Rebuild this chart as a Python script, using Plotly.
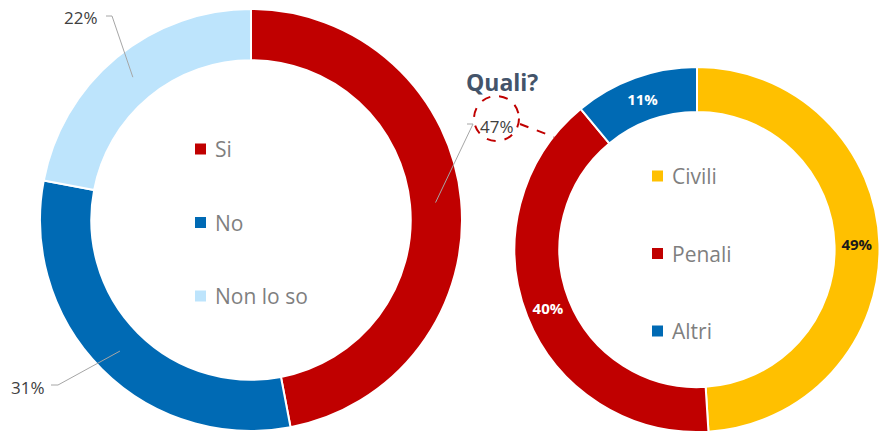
import math
import plotly.graph_objects as go

# ---- data ----
left_labels = ["Si", "No", "Non lo so"]
left_values = [47, 31, 22]
left_colors = ["#C00000", "#006AB4", "#BDE4FC"]

right_labels = ["Civili", "Penali", "Altri"]
right_values = [49, 40, 11]
right_colors = ["#FFC000", "#C00000", "#006AB4"]
right_text_colors = ["#1a1a1a", "#FFFFFF", "#FFFFFF"]

title_text = "Quali?"

W, H = 888, 432
FONT = "Open Sans"


def px(x):
    return x / W


def py(y):
    return 1 - y / H


# geometry (pixels)
L_CX, L_CY, L_R, L_HOLE = 251, 220, 211, 0.757
R_CX, R_CY, R_R, R_HOLE = 697, 249.5, 182.5, 0.754

fig = go.Figure()

fig.add_trace(go.Pie(
    labels=left_labels, values=left_values, sort=False, direction="clockwise",
    rotation=0, hole=L_HOLE, textinfo="none", hoverinfo="label+percent",
    marker=dict(colors=left_colors, line=dict(color="white", width=2)),
    domain=dict(x=[px(L_CX - L_R), px(L_CX + L_R)], y=[py(L_CY + L_R), py(L_CY - L_R)]),
    showlegend=False,
))

fig.add_trace(go.Pie(
    labels=right_labels, values=right_values, sort=False, direction="clockwise",
    rotation=0, hole=R_HOLE, textinfo="text",
    text=[f"{v}%" for v in right_values],
    textposition="inside", insidetextorientation="horizontal",
    insidetextfont=dict(family=FONT, size=15, color=right_text_colors, weight="bold"),
    marker=dict(colors=right_colors, line=dict(color="white", width=2)),
    domain=dict(x=[px(R_CX - R_R), px(R_CX + R_R)], y=[0, py(R_CY - R_R)]),
    showlegend=False,
))

annotations = []
shapes = []

# left pie outside labels with leader lines (anchors from slice mid-angles)
total = sum(left_values)
label_pos = [(497, 126, 467, 473), (28, 387, 51, 58), (81, 18, 106, 112)]  # x, y, elbow start, elbow end
cum = 0
r_mid = L_R * (1 + L_HOLE) / 2
for v, (lx, ly, ex0, ex1) in zip(left_values, label_pos):
    mid = (cum + v / 2) / total * 2 * math.pi
    cum += v
    ax = L_CX + r_mid * math.sin(mid)
    ay = L_CY - r_mid * math.cos(mid)
    annotations.append(dict(x=px(lx), y=py(ly), xref="paper", yref="paper",
                            xanchor="center", yanchor="middle",
                            text=f"{round(v / total * 100)}%", showarrow=False,
                            font=dict(family=FONT, size=17, color="#404040")))
    shapes.append(dict(type="path", xref="paper", yref="paper",
                       path=f"M {px(ex0)} {py(ly - 2)} L {px(ex1)} {py(ly - 2)} L {px(ax)} {py(ay)}",
                       line=dict(color="#A6A6A6", width=1)))

# legends inside donuts
def legend(labels, colors, x_sq, y0, step):
    for i, (lab, col) in enumerate(zip(labels, colors)):
        yc = y0 + i * step
        shapes.append(dict(type="rect", xref="paper", yref="paper",
                           x0=px(x_sq), x1=px(x_sq + 11), y0=py(yc + 5.5), y1=py(yc - 5.5),
                           fillcolor=col, line=dict(width=0)))
        annotations.append(dict(x=px(x_sq + 18), y=py(yc), xref="paper", yref="paper",
                                xanchor="left", yanchor="middle", text=lab, showarrow=False,
                                font=dict(family=FONT, size=21, color="#7F7F7F")))


legend(left_labels, left_colors, 195, 149, 73.5)
legend(right_labels, right_colors, 652, 176, 77.5)

# title
annotations.append(dict(x=px(502), y=py(82), xref="paper", yref="paper", text=f"<b>{title_text}</b>",
                        xanchor="center", yanchor="middle",
                        showarrow=False, font=dict(family=FONT, size=23, color="#44546A")))

# dashed circle and connector
shapes.append(dict(type="circle", xref="paper", yref="paper",
                   x0=px(474), x1=px(519), y0=py(141), y1=py(96),
                   line=dict(color="#C00000", width=2, dash="dash")))
shapes.append(dict(type="line", xref="paper", yref="paper",
                   x0=px(520), y0=py(124), x1=px(554), y1=py(137),
                   line=dict(color="#C00000", width=2, dash="dash")))

fig.update_layout(
    width=W, height=H, margin=dict(l=0, r=0, t=0, b=0),
    paper_bgcolor="white", plot_bgcolor="white",
    annotations=annotations, shapes=shapes,
)

fig.write_html("out.html")
